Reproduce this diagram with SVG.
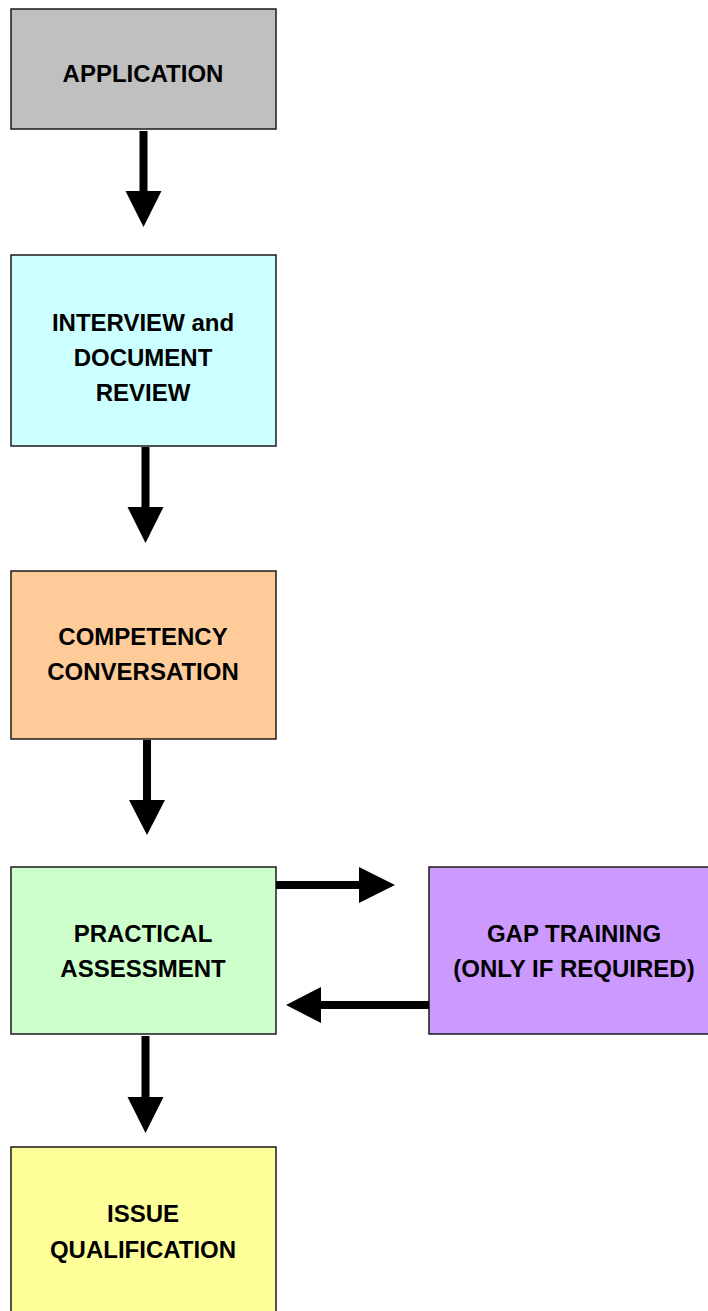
<svg xmlns="http://www.w3.org/2000/svg" width="708" height="1311" viewBox="0 0 708 1311">
<style>
.box{stroke:#1a1a1a;stroke-width:1.5}
.t{font-family:"Liberation Sans",Arial,sans-serif;font-weight:bold;font-size:24px;fill:#000;text-anchor:middle}
.a{fill:#000}
</style>
<rect width="708" height="1311" fill="#fff"/>
<g id="application">
<rect class="box" x="11" y="9" width="265" height="120" fill="#c0c0c0"/>
<text class="t" x="143" y="82">APPLICATION</text>
</g>
<g id="interview">
<rect class="box" x="11" y="255" width="265" height="191" fill="#ccffff"/>
<text class="t" x="143" y="331">INTERVIEW and</text>
<text class="t" x="143" y="366">DOCUMENT</text>
<text class="t" x="143" y="401">REVIEW</text>
</g>
<g id="competency">
<rect class="box" x="11" y="571" width="265" height="168" fill="#ffcc99"/>
<text class="t" x="143" y="645">COMPETENCY</text>
<text class="t" x="143" y="680">CONVERSATION</text>
</g>
<g id="practical">
<rect class="box" x="11" y="867" width="265" height="167" fill="#ccffcc"/>
<text class="t" x="143" y="942">PRACTICAL</text>
<text class="t" x="143" y="977">ASSESSMENT</text>
</g>
<g id="gap">
<rect class="box" x="429" y="867" width="290" height="167" fill="#cc99ff"/>
<text class="t" x="574" y="942">GAP TRAINING</text>
<text class="t" x="574" y="977">(ONLY IF REQUIRED)</text>
</g>
<g id="issue">
<rect class="box" x="11" y="1147" width="265" height="170" fill="#ffff99"/>
<text class="t" x="143" y="1222">ISSUE</text>
<text class="t" x="143" y="1258">QUALIFICATION</text>
</g>
<g id="connectors">
<polygon class="a" points="139.5,131 147.5,131 147.5,191 161.5,191 143.5,227 125.5,191 139.5,191"/>
<polygon class="a" points="141.5,447 149.5,447 149.5,507 163.5,507 145.5,543 127.5,507 141.5,507"/>
<polygon class="a" points="143,740 151,740 151,800 165,800 147,835 129,800 143,800"/>
<polygon class="a" points="141.5,1036 149.5,1036 149.5,1097 163.5,1097 145.5,1133 127.5,1097 141.5,1097"/>
<polygon class="a" points="276,881 359,881 359,867 395,885 359,903 359,889 276,889"/>
<polygon class="a" points="429,1001 321,1001 321,987 286,1005 321,1023 321,1009 429,1009"/>
</g>
</svg>
